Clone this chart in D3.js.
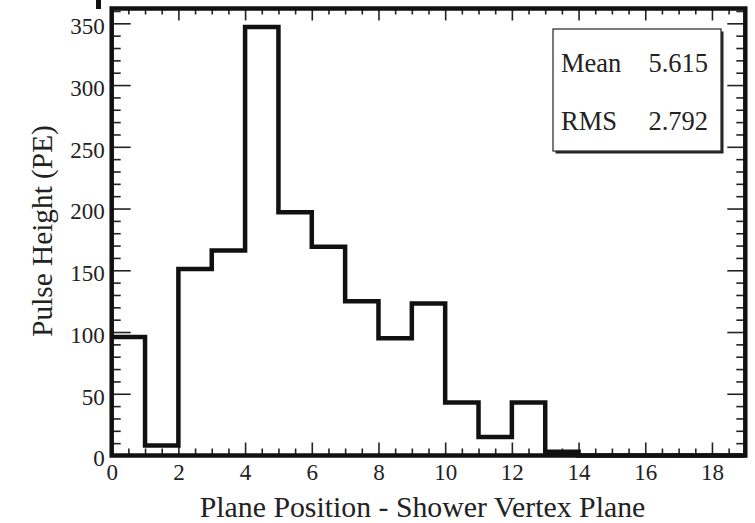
<!DOCTYPE html>
<html>
<head>
<meta charset="utf-8">
<script src="https://cdn.jsdelivr.net/npm/d3@7"></script>
<style>
  html, body { margin: 0; padding: 0; background: #fff; }
  svg { display: block; }
  text { font-family: "Liberation Serif", "Times New Roman", serif; fill: #222; }
</style>
</head>
<body>
<script>
// ---- data ----
const binLowEdges = [0, 1, 2, 3, 4, 5, 6, 7, 8, 9, 10, 11, 12, 13, 14, 15, 16, 17, 18];
const binCounts   = [96, 8, 151, 166, 347, 197, 169, 125, 95, 123, 43, 15, 43, 3, 0, 0, 0, 0, 0];
const xMajorTicks = [0, 2, 4, 6, 8, 10, 12, 14, 16, 18];
const yMajorTicks = [0, 50, 100, 150, 200, 250, 300, 350];
const statsLabels = ["Mean", "RMS"];
const statsValues = ["5.615", "2.792"];
const xTitle = "Plane Position - Shower Vertex Plane";
const yTitle = "Pulse Height (PE)";

const W = 755, H = 523;
const L = 111.7, R = 745.3, T = 8.5, B = 455.5;

const svg = d3.select("body").append("svg").attr("width", W).attr("height", H);

const x = d3.scaleLinear().domain([0, 19]).range([L, R]);
const y = d3.scaleLinear().domain([0, 362]).range([B, T]);

const xMinor = d3.range(0, 19.01, 0.5).filter(v => !xMajorTicks.includes(v));
const yMinor = d3.range(0, 362, 10).filter(v => !yMajorTicks.includes(v));

function styleTicks(g) {
  g.select(".domain").remove();
  g.selectAll(".tick line").attr("stroke", "#222").attr("stroke-width", 1.6);
}

// bottom axis
svg.append("g").attr("transform", `translate(0,${B})`)
  .call(d3.axisBottom(x).tickValues(xMajorTicks).tickSizeInner(-13).tickSizeOuter(0).tickPadding(8).tickFormat(d3.format("d")))
  .call(styleTicks)
  .call(g => g.selectAll("text").attr("font-size", 23).attr("font-family", "Liberation Serif").attr("fill", "#222"));
svg.append("g").attr("transform", `translate(0,${B})`)
  .call(d3.axisBottom(x).tickValues(xMinor).tickSizeInner(-7).tickSizeOuter(0).tickFormat(""))
  .call(styleTicks);
// top axis
svg.append("g").attr("transform", `translate(0,${T})`)
  .call(d3.axisTop(x).tickValues(xMajorTicks).tickSizeInner(-12).tickSizeOuter(0).tickFormat(""))
  .call(styleTicks);
svg.append("g").attr("transform", `translate(0,${T})`)
  .call(d3.axisTop(x).tickValues(xMinor).tickSizeInner(-6).tickSizeOuter(0).tickFormat(""))
  .call(styleTicks);
// left axis
svg.append("g").attr("transform", `translate(${L},0)`)
  .call(d3.axisLeft(y).tickValues(yMajorTicks).tickSizeInner(-19).tickSizeOuter(0).tickPadding(7).tickFormat(d3.format("d")))
  .call(styleTicks)
  .call(g => g.selectAll("text").attr("font-size", 23).attr("dy", "0.45em").attr("font-family", "Liberation Serif").attr("fill", "#222"));
svg.append("g").attr("transform", `translate(${L},0)`)
  .call(d3.axisLeft(y).tickValues(yMinor).tickSizeInner(-9).tickSizeOuter(0).tickFormat(""))
  .call(styleTicks);
// right axis
svg.append("g").attr("transform", `translate(${R},0)`)
  .call(d3.axisRight(y).tickValues(yMajorTicks).tickSizeInner(-18).tickSizeOuter(0).tickFormat(""))
  .call(styleTicks);
svg.append("g").attr("transform", `translate(${R},0)`)
  .call(d3.axisRight(y).tickValues(yMinor).tickSizeInner(-9).tickSizeOuter(0).tickFormat(""))
  .call(styleTicks);

// histogram outline
const pts = binLowEdges.map((e, i) => [e, binCounts[i]]);
pts.push([binLowEdges[binLowEdges.length - 1] + 1, binCounts[binCounts.length - 1]]);
const line = d3.line().x(d => x(d[0])).y(d => y(d[1])).curve(d3.curveStepAfter);
svg.append("path").attr("d", line(pts))
  .attr("fill", "none").attr("stroke", "#111").attr("stroke-width", 4.5).attr("stroke-linejoin", "miter");

// frame
svg.append("rect").attr("x", L).attr("y", T).attr("width", R - L).attr("height", B - T)
  .attr("fill", "none").attr("stroke", "#111").attr("stroke-width", 4.5);

// stray mark top-left
svg.append("rect").attr("x", 96).attr("y", 0).attr("width", 5).attr("height", 9).attr("fill", "#111");

// stats box
const bx = 553, by = 29, bw = 168, bh = 122;
svg.append("rect").attr("x", bx + 2.5).attr("y", by + 2.5).attr("width", bw).attr("height", bh).attr("fill", "#222");
svg.append("rect").attr("x", bx).attr("y", by).attr("width", bw).attr("height", bh)
  .attr("fill", "#fff").attr("stroke", "#333").attr("stroke-width", 1.3);
statsLabels.forEach((lab, i) => {
  const yy = 72 + i * 58;
  svg.append("text").attr("x", 561).attr("y", yy).attr("font-size", 26.5).text(lab);
  svg.append("text").attr("x", 708).attr("y", yy).attr("font-size", 26.5).attr("text-anchor", "end").text(statsValues[i]);
});

// axis titles
svg.append("text").attr("x", (198 + 647) / 2).attr("y", 517).attr("text-anchor", "middle")
  .attr("font-size", 29.8).text(xTitle);
svg.append("text").attr("transform", `translate(52,231) rotate(-90)`).attr("text-anchor", "middle")
  .attr("font-size", 29.3).text(yTitle);
</script>
</body>
</html>
